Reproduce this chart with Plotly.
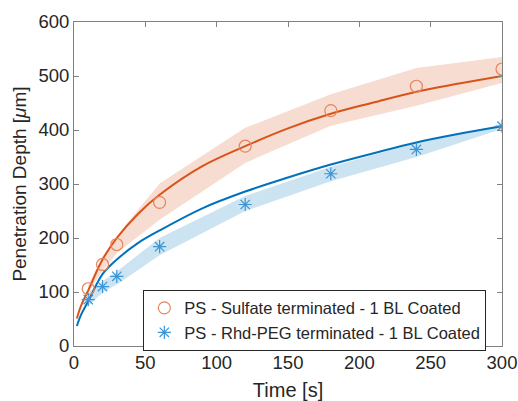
import plotly.graph_objects as go

# Measured data (markers)
t_data = [10, 20, 30, 60, 120, 180, 240, 300]
sulfate = [106, 151, 188, 266, 370, 436, 481, 513]
rhd_peg = [86, 110, 129, 184, 262, 319, 364, 407]

# Fit curves
t_fit = [2, 5, 10, 20, 30, 45, 60, 90, 120, 150, 180, 210, 240, 270, 300]
sulfate_fit = [51, 75, 103, 160, 200, 245, 280, 333, 370, 403, 430, 451, 471, 486, 500]
rhd_fit = [37, 58, 83, 133, 160, 191, 214, 255, 286, 312, 336, 357, 377, 393, 407]

# Shaded bands (lower / upper at the data times)
sulfate_low = [99, 140, 172, 234, 339, 408, 445, 487]
sulfate_high = [113, 166, 204, 301, 404, 466, 515, 535]
rhd_low = [74, 99, 114, 168, 250, 305, 350, 402]
rhd_high = [99, 120, 138, 200, 278, 332, 376, 410]

ORANGE = "#D95319"
BLUE = "#0072BD"
FONT = "Liberation Sans, Arial, sans-serif"

fig = go.Figure()

fig.add_trace(go.Scatter(
    x=t_data + t_data[::-1], y=sulfate_high + sulfate_low[::-1],
    fill="toself", fillcolor="rgba(217,83,25,0.2)", line=dict(width=0),
    mode="lines", showlegend=False, hoverinfo="skip"))
fig.add_trace(go.Scatter(
    x=t_data + t_data[::-1], y=rhd_high + rhd_low[::-1],
    fill="toself", fillcolor="rgba(0,114,189,0.2)", line=dict(width=0),
    mode="lines", showlegend=False, hoverinfo="skip"))

fig.add_trace(go.Scatter(x=t_fit, y=sulfate_fit, mode="lines",
                         line=dict(color=ORANGE, width=2, shape="spline"),
                         showlegend=False))
fig.add_trace(go.Scatter(x=t_fit, y=rhd_fit, mode="lines",
                         line=dict(color=BLUE, width=2, shape="spline"),
                         showlegend=False))

fig.add_trace(go.Scatter(
    x=t_data, y=sulfate, mode="markers",
    name="PS - Sulfate terminated - 1 BL Coated",
    marker=dict(symbol="circle-open", size=12, color="#E8845A",
                line=dict(width=1.2, color="#E8845A"))))
fig.add_trace(go.Scatter(
    x=t_data, y=rhd_peg, mode="markers",
    name="PS - Rhd-PEG terminated - 1 BL Coated",
    marker=dict(symbol="asterisk-open", size=11, color="#3B95D6",
                line=dict(width=1.2, color="#3B95D6"))))

axis_common = dict(
    showline=True, linecolor="#808080", linewidth=1, mirror="ticks",
    ticks="inside", ticklen=5, tickcolor="#808080", showgrid=False,
    zeroline=False, automargin=False, ticklabeloverflow="allow",
    tickfont=dict(size=18.5, color="#262626", family=FONT),
)

fig.update_xaxes(range=[0, 300], tickvals=[0, 50, 100, 150, 200, 250, 300],
                 title=dict(text="Time [s]", font=dict(size=20, color="#262626", family=FONT),
                            standoff=10),
                 **axis_common)
fig.update_yaxes(range=[0, 600], tickvals=[0, 100, 200, 300, 400, 500, 600],
                 title=dict(text="Penetration Depth [<i>μ</i>m]",
                            font=dict(size=19, color="#262626", family=FONT), standoff=6),
                 **axis_common)

fig.update_layout(
    width=518, height=401,
    margin=dict(l=74, r=16, t=22, b=55, autoexpand=False),
    paper_bgcolor="white", plot_bgcolor="white",
    font=dict(family=FONT, color="#262626"),
    legend=dict(x=0.162, y=0.174, xanchor="left", yanchor="top",
                bgcolor="white", bordercolor="#262626", borderwidth=1,
                font=dict(size=16.5, color="#262626", family=FONT),
                tracegroupgap=0, itemwidth=30),
)

fig.write_html(
    "out.html",
    config={"displayModeBar": False},
    post_script="document.body.style.margin='0';document.body.style.overflow='hidden';",
)
